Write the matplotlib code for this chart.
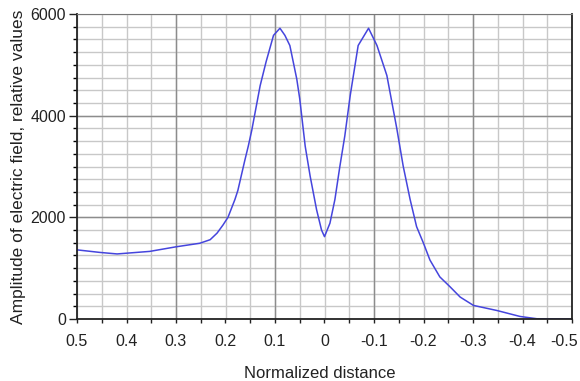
"""
plot.py — field amplitude vs normalized distance (two-lobe profile).
"""

import numpy as np
import matplotlib
matplotlib.use("Agg")
import matplotlib.pyplot as plt
from matplotlib.ticker import MultipleLocator, FuncFormatter
from matplotlib.transforms import ScaledTranslation

# values
distance = [0.5, 0.454, 0.419, 0.353, 0.3, 0.252, 0.231, 0.217, 0.205, 0.195,
            0.181, 0.175, 0.161, 0.154, 0.147, 0.130, 0.118, 0.103, 0.090,
            0.080, 0.070, 0.056, 0.050, 0.039, 0.029, 0.016, 0.006, 0.0,
            -0.011, -0.021, -0.031, -0.041, -0.052, -0.068, -0.089, -0.106,
            -0.126, -0.146, -0.159, -0.173, -0.186, -0.200, -0.213, -0.233,
            -0.254, -0.274, -0.301, -0.348, -0.395, -0.429, -0.5]
amplitude = [1360, 1310, 1280, 1330, 1420, 1490, 1560, 1690, 1850, 2000,
             2350, 2530, 3120, 3400, 3710, 4590, 5060, 5580, 5720,
             5580, 5380, 4720, 4330, 3400, 2810, 2150, 1750, 1620,
             1885, 2350, 3000, 3600, 4400, 5380, 5720, 5380,
             4790, 3750, 3006, 2350, 1818, 1490, 1160, 828,
             630, 432, 267, 168, 50, 5, 0]

x_label = "Normalized distance"
y_label = "Amplitude of electric field, relative values"

plt.rcParams["font.family"] = ["Liberation Sans", "DejaVu Sans"]

fig = plt.figure(figsize=(5.8, 3.81), dpi=100)
ax = fig.add_axes([77 / 580, 1 - 319 / 381, 495 / 580, 305 / 381])

# light grid every 0.05 / 250, darker lines at a few majors
for xv in np.arange(-0.5, 0.501, 0.05):
    ax.axvline(xv, color="#c8c8c8", lw=1, zorder=0)
for yv in np.arange(0, 6001, 250):
    ax.axhline(yv, color="#c8c8c8", lw=1, zorder=0)
for xv in (0.3, 0.1, -0.1, -0.3):
    ax.axvline(xv, color="#8c8c8c", lw=1, zorder=0.5)
for yv in (2000, 4000):
    ax.axhline(yv, color="#8c8c8c", lw=1, zorder=0.5)

ax.plot(distance, amplitude, color="#4545dd", lw=1.1, zorder=2)

ax.set_xlim(0.5, -0.5)
ax.set_ylim(0, 6000)

ax.xaxis.set_major_locator(MultipleLocator(0.1))
ax.xaxis.set_minor_locator(MultipleLocator(0.05))
ax.yaxis.set_major_locator(MultipleLocator(2000))
ax.yaxis.set_minor_locator(MultipleLocator(250))
ax.xaxis.set_major_formatter(FuncFormatter(lambda v, p: "0" if abs(v) < 1e-9 else f"{v:.1f}"))

ax.tick_params(axis="x", which="both", length=3, width=1, pad=8, labelsize=11.5, colors="#222222")
ax.tick_params(axis="y", which="major", length=6, width=1, pad=2, labelsize=11.5, colors="#222222")
ax.tick_params(axis="y", which="minor", length=3, width=1)

# keep the rightmost label ("-0.5") inside the figure
fig.canvas.draw()
for lbl in ax.get_xticklabels():
    if lbl.get_text() == "-0.5":
        lbl.set_horizontalalignment("right")
        lbl.set_transform(lbl.get_transform() + ScaledTranslation(0.06, 0, fig.dpi_scale_trans))

for side in ("left", "bottom", "right"):
    ax.spines[side].set_color("#222222")
    ax.spines[side].set_linewidth(1.3)
ax.spines["top"].set_color("#777777")

ax.set_xlabel(x_label, fontsize=12, color="#222222")
ax.xaxis.set_label_coords(0.49, -0.155)
ax.set_ylabel(y_label, fontsize=12.5, color="#222222")
ax.yaxis.set_label_coords(-0.103, 0.5)

fig.savefig("out.png", dpi=100)
